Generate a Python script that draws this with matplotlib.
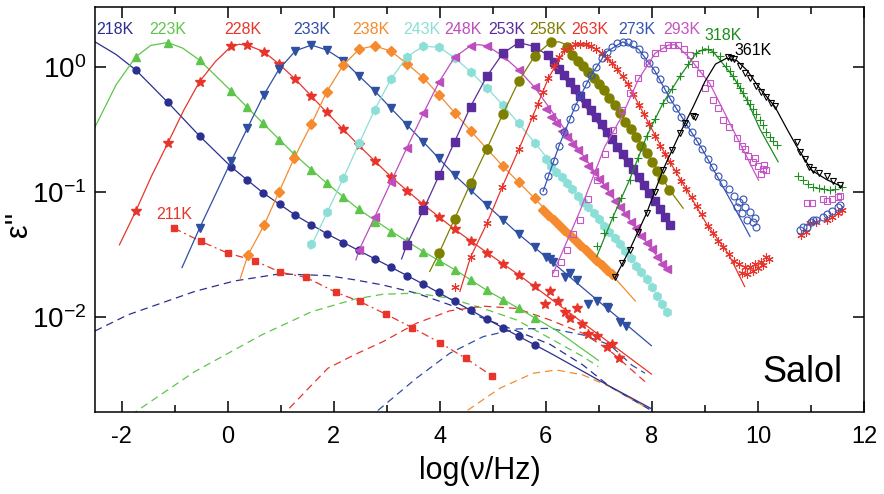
import numpy as np
import matplotlib.pyplot as plt
from matplotlib.ticker import MultipleLocator, NullLocator, FixedLocator

plt.rcParams['font.family'] = ['Liberation Sans', 'DejaVu Sans']
plt.rcParams['mathtext.fontset'] = 'custom'
plt.rcParams['mathtext.rm'] = 'Liberation Sans'
plt.rcParams['mathtext.it'] = 'Liberation Sans:italic'
plt.rcParams['axes.unicode_minus'] = False

# x = log10(nu/Hz), y = eps''
# ---------------- 211K (dash-dot) ----------------
x211 = [-1.01, -0.50, 0.01, 0.51, 0.99, 1.48, 2.05, 2.49, 2.99, 3.48, 4.00, 4.49, 4.99]
y211 = [0.0512, 0.0401, 0.0323, 0.0282, 0.0228, 0.0207, 0.0157, 0.0133, 0.0105, 0.00822, 0.00624, 0.00467, 0.00337]

# ---------------- 218K ----------------
x218 = [-1.73, -1.13, -0.53, 0.07, 0.37, 0.67, 0.98, 1.28, 1.58, 1.88, 2.18, 2.47, 2.77, 3.08, 3.38, 3.69,
        3.99, 4.28, 4.58, 4.89, 5.19, 5.49, 5.79]
y218 = [0.94, 0.52, 0.28, 0.158, 0.124, 0.098, 0.080, 0.065, 0.054, 0.046, 0.039, 0.034, 0.029, 0.025, 0.0214,
        0.0183, 0.0157, 0.0133, 0.0113, 0.0096, 0.0081, 0.0070, 0.0060]
fx218 = [-2.5, -2.1, -1.73, -1.43, -1.13, -0.53, 0.07, 0.67, 1.28, 1.88, 2.47, 3.08, 3.69, 4.28, 4.89, 5.49, 6.1, 7.2, 8.0]
fy218 = [1.58, 1.25, 0.94, 0.70, 0.52, 0.28, 0.158, 0.098, 0.065, 0.046, 0.034, 0.025, 0.0183, 0.0133, 0.0096,
         0.0070, 0.0051, 0.0028, 0.00184]

# ---------------- 223K ----------------
x223 = [-1.73, -1.13, -0.53, 0.07, 0.37, 0.67, 0.97, 1.26, 1.58, 1.87, 2.18, 2.47, 2.77, 3.09, 3.38, 3.69,
        3.99, 4.29, 4.58, 4.89, 5.19, 5.49, 5.79]
y223 = [1.20, 1.56, 1.13, 0.638, 0.479, 0.352, 0.259, 0.199, 0.149, 0.117, 0.0912, 0.0726, 0.0569, 0.0482,
        0.0408, 0.0333, 0.0282, 0.0238, 0.0198, 0.0163, 0.0137, 0.0117, 0.0099]
fx223 = [-2.5, -2.1, -1.73, -1.45, -1.13, -0.85, -0.53, -0.23, 0.07, 0.67, 1.26, 1.87, 2.47, 3.09, 3.69, 4.29,
         4.89, 5.49, 6.2, 6.99]
fy223 = [0.33, 0.72, 1.20, 1.48, 1.56, 1.41, 1.13, 0.85, 0.638, 0.352, 0.199, 0.117, 0.0726, 0.0482, 0.0333,
         0.0238, 0.0163, 0.0117, 0.0078, 0.0045]

# ---------------- 228K ----------------
x228 = [-1.73, -1.13, -0.53, 0.07, 0.37, 0.68, 0.97, 1.28, 1.58, 1.87, 2.18, 2.47, 2.77, 3.08, 3.38, 3.69,
        3.99, 4.28, 4.58, 4.89, 5.19, 5.49, 5.79, 5.98, 6.08, 6.23, 6.36, 6.45, 6.58, 6.69, 6.80, 6.96, 7.15,
        7.25, 7.38]
y228 = [0.0705, 0.244, 0.759, 1.46, 1.49, 1.32, 1.05, 0.793, 0.586, 0.431, 0.317, 0.236, 0.176, 0.132, 0.102,
        0.0793, 0.0624, 0.0502, 0.0406, 0.0327, 0.0265, 0.0217, 0.0178, 0.0126, 0.0161, 0.0133, 0.0110, 0.0098,
        0.0117, 0.0088, 0.0073, 0.0070, 0.0058, 0.0061, 0.0047]
fx228 = [-2.04, -1.73, -1.43, -1.13, -0.83, -0.53, -0.23, 0.07, 0.22, 0.37, 0.68, 0.97, 1.28, 1.87, 2.47, 3.08,
         3.69, 4.28, 4.89, 5.49, 6.1, 7.0, 7.99]
fy228 = [0.0377, 0.0705, 0.135, 0.244, 0.447, 0.759, 1.10, 1.46, 1.51, 1.49, 1.32, 1.05, 0.793, 0.431, 0.236,
         0.132, 0.0793, 0.0502, 0.0327, 0.0217, 0.0139, 0.0072, 0.0035]

# ---------------- 233K ----------------
x233 = [-0.53, 0.07, 0.37, 0.68, 0.97, 1.28, 1.58, 1.87, 2.18, 2.47, 2.77, 3.08, 3.38, 3.69, 3.99, 4.28, 4.58,
        4.89, 5.19, 5.49, 5.79, 6.01, 6.08, 6.13, 6.36, 6.45, 6.58, 6.80, 6.96, 7.15, 7.18, 7.40, 7.52]
y233 = [0.0512, 0.177, 0.321, 0.593, 0.957, 1.34, 1.49, 1.36, 1.12, 0.85, 0.643, 0.465, 0.341, 0.251, 0.185,
        0.136, 0.103, 0.0782, 0.0597, 0.0458, 0.0360, 0.0304, 0.0290, 0.0277, 0.0210, 0.0225, 0.0198, 0.0126,
        0.0133, 0.0121, 0.0117, 0.0091, 0.0084]
fx233 = [-0.86, -0.53, -0.23, 0.07, 0.37, 0.68, 0.97, 1.28, 1.58, 1.87, 2.18, 2.47, 2.77, 3.08, 3.69, 4.28,
         4.89, 5.49, 6.1, 7.0, 7.99]
fy233 = [0.0248, 0.0512, 0.095, 0.177, 0.321, 0.593, 0.957, 1.34, 1.49, 1.36, 1.12, 0.85, 0.643, 0.465, 0.251,
         0.136, 0.0782, 0.0458, 0.0279, 0.0133, 0.0059]

# ---------------- 238K ----------------
x238 = [0.38, 0.69, 0.97, 1.26, 1.58, 1.87, 2.18, 2.48, 2.77, 3.08, 3.38, 3.69, 3.99, 4.28, 4.58, 4.89, 5.19,
        5.49, 5.79, 5.95, 6.05, 6.15, 6.25, 6.35, 6.45, 6.55, 6.65, 6.75, 6.85, 6.95, 7.05, 7.15, 7.24]
y238 = [0.031, 0.0545, 0.100, 0.188, 0.348, 0.631, 1.03, 1.38, 1.47, 1.33, 1.06, 0.817, 0.593, 0.429, 0.308,
        0.222, 0.160, 0.120, 0.0885, 0.0718, 0.0655, 0.0597, 0.0545, 0.0497, 0.0453, 0.0413, 0.0377, 0.0344,
        0.0313, 0.0286, 0.0261, 0.0238, 0.0219]
fx238 = [0.24, 0.38, 0.69, 0.97, 1.26, 1.58, 1.87, 2.18, 2.48, 2.77, 3.08, 3.38, 3.69, 3.99, 4.58, 5.19, 5.79,
         6.5, 7.24, 7.69]
fy238 = [0.0204, 0.031, 0.0545, 0.100, 0.188, 0.348, 0.631, 1.03, 1.38, 1.47, 1.33, 1.06, 0.817, 0.593, 0.308,
         0.160, 0.0885, 0.043, 0.0219, 0.0134]

# ---------------- 243K ----------------
x243 = [1.58, 1.88, 2.18, 2.48, 2.77, 3.08, 3.38, 3.69, 3.99, 4.28, 4.58, 4.89, 5.19, 5.49, 5.79, 6.0, 6.1, 6.2,
        6.3, 6.4, 6.5, 6.6, 6.7, 6.8, 6.9, 7.0, 7.1, 7.2, 7.3, 7.4, 7.5, 7.6, 7.7, 7.8, 7.9, 8.0, 8.1, 8.2, 8.28]
y243 = [0.0382, 0.0689, 0.128, 0.244, 0.45, 0.796, 1.20, 1.46, 1.43, 1.18, 0.912, 0.679, 0.493, 0.352, 0.247,
        0.182, 0.162, 0.145, 0.132, 0.117, 0.105, 0.0933, 0.0832, 0.0759, 0.0676, 0.0603, 0.0537, 0.0479,
        0.0427, 0.0380, 0.0339, 0.0295, 0.0257, 0.0229, 0.0200, 0.0174, 0.0148, 0.0126, 0.0110]
fx243 = [1.55, 1.88, 2.18, 2.48, 2.77, 3.08, 3.38, 3.69, 3.99, 4.28, 4.58, 4.89, 5.19, 5.49, 5.79, 6.5, 7.0, 7.5,
         8.0, 8.28]
fy243 = [0.035, 0.0689, 0.128, 0.244, 0.45, 0.796, 1.20, 1.46, 1.43, 1.18, 0.912, 0.679, 0.493, 0.352, 0.247,
         0.105, 0.0603, 0.0339, 0.0174, 0.0110]

# ---------------- 248K ----------------
x248 = [2.48, 2.77, 3.08, 3.38, 3.69, 3.99, 4.28, 4.58, 4.89, 5.19, 5.49, 5.79, 6.0, 6.1, 6.2, 6.3, 6.4, 6.5,
        6.6, 6.7, 6.8, 6.9, 7.0, 7.1, 7.2, 7.3, 7.4, 7.5, 7.6, 7.7, 7.8, 7.9, 8.0, 8.1, 8.2, 8.28]
y248 = [0.0344, 0.0624, 0.120, 0.225, 0.424, 0.759, 1.19, 1.47, 1.47, 1.22, 0.94, 0.684, 0.457, 0.398, 0.355,
        0.309, 0.275, 0.240, 0.214, 0.186, 0.162, 0.145, 0.126, 0.112, 0.0977, 0.0851, 0.0759, 0.0661, 0.0575,
        0.0513, 0.0447, 0.0389, 0.0347, 0.0302, 0.0263, 0.0240]
fx248 = [2.42, 2.48, 2.77, 3.08, 3.38, 3.69, 3.99, 4.28, 4.58, 4.73, 4.89, 5.19, 5.49, 5.79, 6.5, 7.2, 8.0, 8.28]
fy248 = [0.0286, 0.0344, 0.0624, 0.120, 0.225, 0.424, 0.759, 1.19, 1.47, 1.50, 1.47, 1.22, 0.94, 0.684, 0.26,
         0.098, 0.0347, 0.024]

# ---------------- 253K ----------------
x253 = [3.38, 3.69, 3.99, 4.28, 4.58, 4.89, 5.19, 5.49, 5.79, 6.05, 6.15, 6.25, 6.35, 6.45, 6.55, 6.65, 6.75,
        6.85, 6.95, 7.05, 7.15, 7.25, 7.35, 7.45, 7.55, 7.65, 7.75, 7.85, 7.95, 8.05, 8.15, 8.25, 8.34]
y253 = [0.0377, 0.0718, 0.136, 0.251, 0.479, 0.841, 1.28, 1.56, 1.45, 1.25, 1.10, 0.966, 0.851, 0.750, 0.661,
        0.582, 0.513, 0.452, 0.398, 0.347, 0.302, 0.263, 0.229, 0.200, 0.174, 0.151, 0.132, 0.114, 0.0977,
        0.0841, 0.0724, 0.0631, 0.0545]
fx253 = [3.28, 3.38, 3.69, 3.99, 4.28, 4.58, 4.89, 5.19, 5.49, 5.79, 6.05, 6.6, 7.25, 7.9, 8.4]
fy253 = [0.0291, 0.0377, 0.0718, 0.136, 0.251, 0.479, 0.841, 1.28, 1.56, 1.45, 1.22, 0.58, 0.25, 0.10, 0.051]

# ---------------- 258K ----------------
x258 = [3.99, 4.28, 4.58, 4.89, 5.19, 5.49, 5.79, 6.09, 6.39, 6.5, 6.6, 6.7, 6.8, 6.9, 7.0, 7.1, 7.2, 7.3, 7.4,
        7.5, 7.6, 7.7, 7.8, 7.9, 8.0, 8.1, 8.2, 8.33]
y258 = [0.0327, 0.0608, 0.117, 0.222, 0.418, 0.767, 1.22, 1.57, 1.45, 1.23, 1.12, 1.02, 0.912, 0.813, 0.724,
        0.646, 0.562, 0.490, 0.427, 0.363, 0.316, 0.275, 0.234, 0.204, 0.174, 0.148, 0.126, 0.104]
fx258 = [3.81, 3.99, 4.28, 4.58, 4.89, 5.19, 5.49, 5.79, 6.09, 6.25, 6.39, 6.8, 7.3, 7.8, 8.33, 8.59]
fy258 = [0.0231, 0.0327, 0.0608, 0.117, 0.222, 0.418, 0.767, 1.22, 1.57, 1.58, 1.50, 0.93, 0.50, 0.24, 0.104, 0.074]

# ---------------- 263K ----------------
x263 = [4.28, 4.58, 4.89, 5.18, 5.49, 5.75, 5.85, 5.95, 6.05, 6.15, 6.25, 6.35, 6.45, 6.55, 6.65, 6.75, 6.85,
        6.95, 7.05, 7.15, 7.25, 7.35, 7.45, 7.55, 7.65, 7.75, 7.85, 7.95, 8.05, 8.15, 8.25, 8.35, 8.45, 8.55,
        8.65, 8.75, 8.85, 8.95, 9.05, 9.15, 9.25, 9.35, 9.45, 9.55, 9.65, 9.75, 9.85, 9.95, 10.05, 10.15,
        9.70, 9.80, 9.90, 10.00, 10.10, 10.20, 10.82, 10.90, 10.98, 11.10, 11.30, 11.40, 11.50, 11.58]
y263 = [0.0172, 0.030, 0.0561, 0.110, 0.218, 0.398, 0.501, 0.631, 0.813, 1.02, 1.20, 1.35, 1.45, 1.51, 1.53,
        1.51, 1.46, 1.38, 1.29, 1.17, 1.07, 0.955, 0.841, 0.724, 0.603, 0.490, 0.417, 0.347, 0.282, 0.234,
        0.200, 0.174, 0.148, 0.123, 0.105, 0.0912, 0.0776, 0.0661, 0.0537, 0.0468, 0.0407, 0.0363, 0.0316,
        0.0282, 0.0263, 0.0251, 0.0251, 0.0263, 0.0275, 0.0302,
        0.0225, 0.0222, 0.0232, 0.0245, 0.0262, 0.0290, 0.0453, 0.0480, 0.0561, 0.0570, 0.0597, 0.0630,
        0.0680, 0.0718]
fx263 = [4.38, 4.58, 4.89, 5.18, 5.49, 5.75, 6.05, 6.35, 6.65, 6.95, 7.25, 7.55, 7.85, 8.25, 8.65, 9.05, 9.45, 9.75]
fy263 = [0.0160, 0.030, 0.0561, 0.110, 0.218, 0.398, 0.813, 1.35, 1.53, 1.38, 1.07, 0.724, 0.417, 0.200, 0.105,
         0.0537, 0.0316, 0.0175]

# ---------------- 273K ----------------
x273 = [5.95, 6.05, 6.15, 6.25, 6.35, 6.45, 6.55, 6.65, 6.75, 6.85, 6.95, 7.05, 7.15, 7.25, 7.35, 7.45, 7.55,
        7.65, 7.75, 7.85, 7.95, 8.05, 8.15, 8.25, 8.35, 8.45, 8.55, 8.65, 8.75, 8.85, 8.95, 9.05, 9.15, 9.25,
        9.35, 9.45, 9.55, 9.65, 9.75, 9.85, 9.95, 9.60, 9.70, 9.80, 9.90, 9.97, 9.72,
        10.79, 10.85, 10.92, 11.00, 11.04, 11.10, 11.23, 11.30, 11.40, 11.50, 11.55]
y273 = [0.101, 0.135, 0.178, 0.234, 0.302, 0.380, 0.479, 0.589, 0.724, 0.851, 1.00, 1.17, 1.32, 1.45, 1.55,
        1.58, 1.57, 1.51, 1.38, 1.23, 1.07, 0.933, 0.794, 0.661, 0.550, 0.468, 0.398, 0.347, 0.302, 0.257,
        0.219, 0.182, 0.158, 0.135, 0.117, 0.105, 0.0933, 0.0832, 0.0759, 0.0692, 0.0617, 0.075, 0.068,
        0.060, 0.057, 0.052, 0.088,
        0.0497, 0.0520, 0.0525, 0.0575, 0.0597, 0.0600, 0.0635, 0.0660, 0.0708, 0.0750, 0.0787]
fx273 = [5.95, 6.25, 6.55, 6.85, 7.15, 7.45, 7.75, 8.05, 8.35, 8.65, 8.95, 9.25, 9.55, 9.85]
fy273 = [0.101, 0.234, 0.479, 0.851, 1.32, 1.58, 1.38, 0.933, 0.550, 0.347, 0.219, 0.129, 0.0759, 0.044]

# ---------------- 293K ----------------
x293 = [6.17, 6.28, 6.39, 6.52, 6.64, 6.80, 6.96, 7.11, 7.27, 7.43, 7.58, 7.74, 7.90, 8.06, 8.21, 8.31, 8.40,
        8.50, 8.60, 8.72, 8.82, 8.91, 9.00, 9.09, 9.16, 9.25, 9.35, 9.45, 9.60, 9.70, 9.75, 9.82, 9.90, 9.95,
        10.00, 10.05, 10.10, 10.12, 10.16,
        10.92, 11.02, 11.23, 11.30, 11.40, 11.50, 11.55]
y293 = [0.0223, 0.0275, 0.0344, 0.0457, 0.0597, 0.0871, 0.125, 0.200, 0.313, 0.447, 0.617, 0.813, 1.07, 1.29,
        1.41, 1.48, 1.50, 1.48, 1.38, 1.23, 1.05, 0.891, 0.676, 0.741, 0.544, 0.468, 0.377, 0.331, 0.269, 0.234,
        0.22, 0.192, 0.174, 0.185, 0.162, 0.14, 0.151, 0.165, 0.150,
        0.081, 0.082, 0.087, 0.0838, 0.088, 0.091, 0.0918]
fx293 = [6.14, 6.64, 7.11, 7.43, 7.74, 8.06, 8.31, 8.45, 8.69, 9.09, 9.32, 9.63, 10.01]
fy293 = [0.0224, 0.0697, 0.229, 0.398, 0.782, 1.28, 1.49, 1.50, 1.20, 0.736, 0.472, 0.259, 0.124]

# ---------------- 318K ----------------
x318 = [6.96, 7.10, 7.27, 7.42, 7.58, 7.74, 7.90, 8.05, 8.21, 8.37, 8.53, 8.68, 8.84, 8.94, 9.05, 9.15, 9.28,
        9.40, 9.47, 9.53, 9.60, 9.66, 9.72, 9.79, 9.85, 9.91, 9.97, 10.04, 10.10, 10.16, 10.22, 10.28, 10.35,
        10.76, 10.85, 10.95, 11.04, 11.15, 11.25, 11.36, 11.45, 11.58]
y318 = [0.0366, 0.0468, 0.0635, 0.0891, 0.125, 0.186, 0.277, 0.380, 0.513, 0.661, 0.838, 1.05, 1.29, 1.37,
        1.38, 1.32, 1.21, 1.02, 0.93, 0.838, 0.741, 0.676, 0.617, 0.544, 0.501, 0.457, 0.417, 0.377, 0.339,
        0.302, 0.275, 0.257, 0.238,
        0.133, 0.125, 0.115, 0.110, 0.107, 0.105, 0.104, 0.106, 0.110]
fx318 = [6.96, 7.27, 7.58, 7.90, 8.21, 8.53, 8.84, 9.0, 9.15, 9.53, 9.79, 10.04, 10.38]
fy318 = [0.0304, 0.0635, 0.125, 0.277, 0.513, 0.838, 1.29, 1.39, 1.33, 0.838, 0.544, 0.316, 0.174]

# ---------------- 361K ----------------
x361 = [7.30, 7.44, 7.58, 7.74, 7.90, 8.05, 8.21, 8.37, 8.53, 8.62, 8.78, 8.81, 9.44, 9.50, 9.55, 9.66, 9.75,
        9.85, 9.97, 10.05, 10.15, 10.25, 10.32, 10.73, 10.79, 10.88, 10.96, 11.04, 11.15, 11.30, 11.42, 11.55]
y361 = [0.0210, 0.0269, 0.0344, 0.0479, 0.0675, 0.100, 0.150, 0.214, 0.294, 0.355, 0.401, 0.398, 1.20, 1.17,
        1.15, 1.01, 0.891, 0.813, 0.697, 0.631, 0.575, 0.513, 0.482, 0.251, 0.210, 0.182, 0.158, 0.150, 0.141,
        0.133, 0.123, 0.114]
fx361 = [7.30, 7.58, 7.90, 8.21, 8.53, 8.78, 9.0, 9.2, 9.41, 9.6, 9.8, 10.0, 10.32, 10.55, 10.73, 11.01, 11.3, 11.58]
fy361 = [0.0204, 0.0344, 0.0675, 0.150, 0.294, 0.48, 0.76, 1.05, 1.17, 1.12, 0.93, 0.70, 0.479, 0.316, 0.231,
         0.149, 0.125, 0.110]

# ---------------- dashed components ----------------
dx218 = [-2.5, -1.88, -1.25, -0.62, 0.13, 0.98, 1.89, 2.4, 2.93, 3.56, 4.19, 4.82, 5.45, 6.08, 6.70, 7.21, 8.0]
dy218 = [0.00773, 0.0104, 0.0129, 0.0160, 0.0194, 0.0221, 0.0214, 0.0198, 0.0180, 0.0155, 0.0125, 0.00977,
         0.00773, 0.00604, 0.00413, 0.00277, 0.00178]
dx223 = [-2.0, -1.69, -0.62, 0.64, 1.58, 2.4, 2.93, 3.56, 4.19, 4.82, 5.45, 6.08, 6.70, 6.99]
dy223 = [0.00141, 0.00180, 0.00366, 0.00718, 0.0110, 0.0139, 0.0152, 0.0155, 0.0141, 0.0117, 0.00946, 0.00675,
         0.00482, 0.00401]
dx228 = [1.0, 1.89, 2.4, 2.93, 3.56, 4.19, 4.82, 5.45, 6.08, 6.70, 7.21, 7.87]
dy228 = [0.00158, 0.00389, 0.00501, 0.00635, 0.00891, 0.0112, 0.0122, 0.0117, 0.00946, 0.00741, 0.00537, 0.00304]
dx233 = [2.7, 2.84, 3.56, 4.19, 4.82, 5.45, 6.08, 6.70, 7.21, 7.62, 7.87]
dy233 = [0.00148, 0.00180, 0.00324, 0.00513, 0.00697, 0.00802, 0.00811, 0.00718, 0.00597, 0.00413, 0.00355]
dx238 = [4.4, 4.53, 5.13, 5.76, 6.2, 6.70, 7.21, 7.92]
dy238 = [0.00148, 0.00180, 0.00269, 0.00355, 0.00377, 0.00344, 0.00277, 0.00186]

# temperature labels
lab_text = ['218K', '223K', '228K', '233K', '238K', '243K', '248K', '253K', '258K', '263K', '273K', '293K',
            '318K', '361K', '211K']
lab_x = [-2.13, -1.13, 0.29, 1.58, 2.71, 3.66, 4.44, 5.26, 6.04, 6.83, 7.71, 8.56, 9.35, 9.91, -1.0]
lab_y = [1.99, 1.99, 1.99, 1.99, 1.99, 1.99, 1.99, 1.99, 1.99, 1.99, 1.99, 1.97, 1.79, 1.36, 0.0664]

c_navy = '#2B2F8F'
c_green = '#5DC64A'
c_red = '#E8352B'
c_blue = '#2F4FA3'
c_orange = '#F58B2E'
c_cyan = '#8CDFD6'
c_mag = '#BE4DBE'
c_purple = '#5B2C9E'
c_olive = '#7F7F00'
c_blue2 = '#3553B5'
c_mag2 = '#C455C4'
c_dgreen = '#1E8C1E'
lab_col = [c_navy, c_green, c_red, c_blue, c_orange, c_cyan, c_mag, c_purple, c_olive, c_red, c_blue2, c_mag2,
           c_dgreen, 'black', c_red]

fig = plt.figure(figsize=(8.84, 4.94), dpi=100)
ax = fig.add_axes([0.1075, 0.166, 0.8699, 0.8198])
ax.set_yscale('log')

# dashed curves
for dx, dy, c in [(dx218, dy218, c_navy), (dx223, dy223, c_green), (dx228, dy228, c_red),
                  (dx233, dy233, c_blue), (dx238, dy238, c_orange)]:
    ax.plot(dx, dy, color=c, lw=0.9, dashes=(6, 4))

# 211K
ax.plot(x211, y211, color=c_red, lw=0.9, dashes=(6, 3, 1.5, 3), marker='s', ms=5, mec=c_red)

aster = (6, 2, 0)
series = [
    (x218, y218, fx218, fy218, c_navy, 'o', True, 5),
    (x223, y223, fx223, fy223, c_green, '^', True, 5.5),
    (x228, y228, fx228, fy228, c_red, '*', True, 7),
    (x233, y233, fx233, fy233, c_blue, 'v', True, 5.5),
    (x238, y238, fx238, fy238, c_orange, 'D', True, 5.5),
    (x243, y243, fx243, fy243, c_cyan, 'h', True, 6),
    (x248, y248, fx248, fy248, c_mag, '<', True, 6),
    (x253, y253, fx253, fy253, c_purple, 's', True, 5.5),
    (x258, y258, fx258, fy258, c_olive, 'o', True, 6.5),
    (x263, y263, fx263, fy263, c_red, aster, False, 6),
    (x273, y273, fx273, fy273, c_blue2, 'o', False, 5),
    (x293, y293, fx293, fy293, c_mag2, 's', False, 4.5),
    (x318, y318, fx318, fy318, c_dgreen, '+', False, 6),
    (x361, y361, fx361, fy361, 'black', 'v', False, 5),
]
for xs, ys, fx, fy, c, m, filled, ms in series:
    ax.plot(fx, fy, color=c, lw=0.9)
    if filled:
        ax.plot(xs, ys, ls='none', marker=m, ms=ms, color=c, mec=c)
    else:
        ax.plot(xs, ys, ls='none', marker=m, ms=ms, mfc='none', mec=c, mew=0.8)

for t, lx, ly, c in zip(lab_text, lab_x, lab_y, lab_col):
    ax.text(lx, ly, t, color=c, fontsize=11.5, ha='center', va='center')

ax.text(11.6, 0.00304, 'Salol', fontsize=26, ha='right', va='baseline')

ax.set_xlim(-2.5, 12)
ax.set_ylim(1.74e-3, 3.0)
ax.xaxis.set_major_locator(MultipleLocator(2))
ax.xaxis.set_minor_locator(MultipleLocator(1))
ax.yaxis.set_major_locator(FixedLocator([1e-2, 1e-1, 1e0]))
ax.yaxis.set_minor_locator(NullLocator())
ax.set_yticks([1e-2, 1e-1, 1e0])
ax.set_yticklabels([r'$10^{-2}$', r'$10^{-1}$', r'$10^{0}$'])
ax.tick_params(which='both', direction='in', top=True, right=True)
ax.tick_params(which='major', length=8, width=1.1)
ax.tick_params(which='minor', length=5, width=1.1)
ax.tick_params(axis='x', labelsize=17, pad=10)
ax.tick_params(axis='y', labelsize=20, pad=6)
for s in ax.spines.values():
    s.set_linewidth(1.1)

ax.set_xlabel('log(ν/Hz)', fontsize=22, labelpad=6)
fig.text(0.022, 0.545, "ε''", fontsize=22, rotation=90, ha='center', va='center')

fig.savefig('out.png', dpi=100)
